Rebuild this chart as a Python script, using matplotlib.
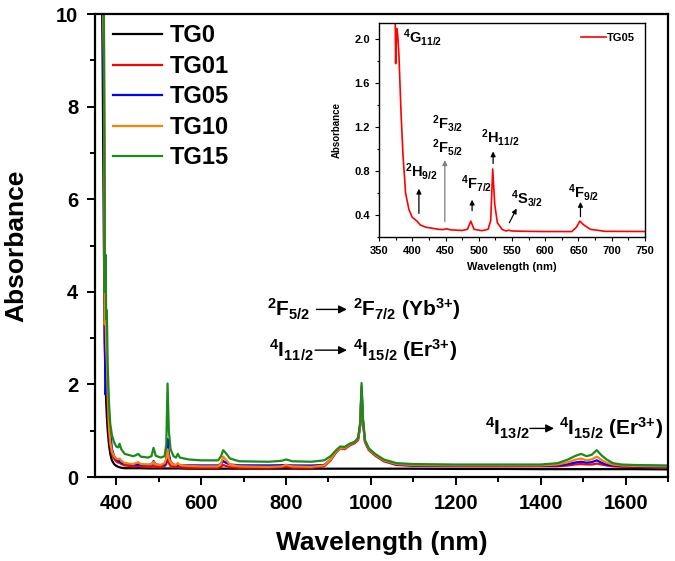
import numpy as np
import matplotlib
matplotlib.use("Agg")
import matplotlib.pyplot as plt
from matplotlib.ticker import MultipleLocator

plt.rcParams['font.family'] = ['Liberation Sans', 'DejaVu Sans']
plt.rcParams['font.weight'] = 'bold'
plt.rcParams['mathtext.fontset'] = 'custom'
plt.rcParams['mathtext.rm'] = 'Liberation Sans:bold'
plt.rcParams['mathtext.bf'] = 'Liberation Sans:bold'
plt.rcParams['mathtext.it'] = 'Liberation Sans:bold'

# wavelength grid (nm), grouped by region
wavelength = [
    365, 368, 371, 373, 375, 376.5, 378, 380, 383, 386, 390, 395, 400,
    405, 408, 412, 420, 440, 446, 452, 458,
    475, 483, 488, 493, 505, 514, 518, 521, 524, 528, 535, 541, 545, 550,
    570, 600, 640, 647, 652, 658, 668, 690, 760, 790, 800, 815, 860,
    890, 905, 918, 928, 938, 950, 962, 970, 975, 978, 981, 986, 995, 1010, 1030, 1060, 1100,
    1200, 1300, 1400, 1440, 1465, 1480, 1495, 1508, 1520, 1532, 1543, 1555, 1570, 1590, 1620, 1700,
]

tg0 = [
    12, 9, 5, 3.0, 2.0, 1.6, 1.3, 1.0, 0.7, 0.5, 0.36, 0.28, 0.24,
    0.22, 0.21, 0.2, 0.19, 0.19, 0.19, 0.19, 0.19,
    0.185, 0.185, 0.185, 0.185, 0.185, 0.185, 0.185, 0.185, 0.185, 0.185, 0.185, 0.185, 0.185, 0.185,
    0.18, 0.18, 0.18, 0.18, 0.18, 0.18, 0.18, 0.18, 0.18, 0.18, 0.18, 0.18, 0.18,
    0.18, 0.18, 0.18, 0.18, 0.18, 0.18, 0.18, 0.18, 0.18, 0.18, 0.18, 0.18, 0.18, 0.18, 0.18, 0.18, 0.18,
    0.175, 0.175, 0.17, 0.17, 0.17, 0.17, 0.17, 0.17, 0.17, 0.17, 0.17, 0.17, 0.17, 0.17, 0.17, 0.165,
]
tg01 = [
    12, 12, 10, 5.3, 3.0, 2.2, 2.4, 1.6, 1.0, 0.7, 0.5, 0.4, 0.34,
    0.31, 0.31, 0.28, 0.25, 0.23, 0.23, 0.24, 0.23,
    0.22, 0.22, 0.25, 0.22, 0.21, 0.23, 0.28, 0.42, 0.3, 0.24, 0.22, 0.21, 0.23, 0.21,
    0.2, 0.2, 0.2, 0.22, 0.26, 0.24, 0.21, 0.2, 0.2, 0.21, 0.22, 0.2, 0.2,
    0.23, 0.36, 0.53, 0.62, 0.6, 0.68, 0.73, 0.8, 1.1, 1.9, 1.2, 0.75, 0.58, 0.46, 0.34, 0.26, 0.24,
    0.23, 0.23, 0.23, 0.23, 0.25, 0.27, 0.28, 0.27, 0.27, 0.29, 0.27, 0.25, 0.23, 0.22, 0.22, 0.21,
]
tg05 = [
    12, 11, 8, 3.0, 1.78, 2.1, 2.05, 1.85, 1.35, 0.95, 0.6, 0.45, 0.38,
    0.355, 0.34, 0.31, 0.29, 0.27, 0.268, 0.275, 0.265,
    0.26, 0.27, 0.345, 0.27, 0.258, 0.27, 0.35, 0.82, 0.5, 0.33, 0.27, 0.255, 0.262, 0.255,
    0.252, 0.25, 0.25, 0.29, 0.345, 0.31, 0.27, 0.252, 0.25, 0.255, 0.26, 0.25, 0.248,
    0.26, 0.38, 0.55, 0.63, 0.62, 0.7, 0.75, 0.83, 1.15, 1.95, 1.25, 0.78, 0.6, 0.48, 0.36, 0.27, 0.25,
    0.24, 0.24, 0.24, 0.25, 0.28, 0.31, 0.33, 0.31, 0.32, 0.36, 0.31, 0.27, 0.25, 0.24, 0.23, 0.22,
]
tg10 = [
    12, 11, 9, 3.3, 3.5, 2.8, 2.5, 1.8, 1.1, 0.75, 0.55, 0.45, 0.4,
    0.38, 0.4, 0.35, 0.3, 0.28, 0.3, 0.32, 0.28,
    0.27, 0.28, 0.33, 0.27, 0.26, 0.3, 0.4, 0.6, 0.4, 0.32, 0.27, 0.26, 0.3, 0.26,
    0.24, 0.23, 0.23, 0.3, 0.44, 0.38, 0.27, 0.23, 0.22, 0.23, 0.26, 0.23, 0.22,
    0.25, 0.38, 0.55, 0.63, 0.62, 0.7, 0.75, 0.83, 1.15, 1.95, 1.25, 0.78, 0.6, 0.48, 0.36, 0.28, 0.26,
    0.25, 0.25, 0.25, 0.27, 0.32, 0.37, 0.4, 0.36, 0.38, 0.44, 0.37, 0.31, 0.27, 0.25, 0.24, 0.23,
]
tg15 = [
    12, 11, 10, 4.0, 4.8, 3.4, 3.6, 2.4, 1.6, 1.15, 0.9, 0.75, 0.66,
    0.64, 0.72, 0.6, 0.5, 0.45, 0.47, 0.5, 0.44,
    0.42, 0.45, 0.63, 0.46, 0.42, 0.45, 0.7, 2.02, 1.0, 0.6, 0.45, 0.42, 0.5, 0.42,
    0.38, 0.36, 0.36, 0.45, 0.58, 0.52, 0.4, 0.34, 0.33, 0.35, 0.38, 0.34, 0.33,
    0.36, 0.45, 0.58, 0.66, 0.65, 0.72, 0.76, 0.85, 1.2, 2.03, 1.3, 0.8, 0.62, 0.5, 0.38, 0.3, 0.28,
    0.27, 0.27, 0.27, 0.3, 0.38, 0.45, 0.5, 0.45, 0.48, 0.58, 0.47, 0.38, 0.3, 0.27, 0.26, 0.25,
]

labels = ['TG0', 'TG01', 'TG05', 'TG10', 'TG15']
colors = ['black', 'red', 'blue', '#ff8000', '#1a8a1a']
series = [tg0, tg01, tg05, tg10, tg15]

# inset level labels: (text, x, y) and arrows (tail, head, colour)
inset_labels = [
    (r'$^{4}$G$_{11/2}$', 386, 2.02),
    (r'$^{2}$H$_{9/2}$', 389, 0.80),
    (r'$^{2}$F$_{3/2}$', 429, 1.235),
    (r'$^{2}$F$_{5/2}$', 429, 1.02),
    (r'$^{4}$F$_{7/2}$', 474, 0.69),
    (r'$^{2}$H$_{11/2}$', 504, 1.11),
    (r'$^{4}$S$_{3/2}$', 548, 0.55),
    (r'$^{4}$F$_{9/2}$', 634, 0.61),
]
inset_arrows = [
    ((410, 0.415), (410, 0.64), 'black'),
    ((449, 0.34), (449, 0.90), 'gray'),
    ((490, 0.44), (490, 0.54), 'black'),
    ((521.6, 0.87), (521.6, 0.98), 'black'),
    ((546, 0.33), (557, 0.46), 'black'),
    ((653, 0.385), (653, 0.52), 'black'),
]

fig = plt.figure(figsize=(6.75, 5.61), dpi=100)
ax = fig.add_axes([0.1407, 0.1497, 0.849, 0.8253])

for vals, lab, c in zip(series, labels, colors):
    ax.plot(wavelength, vals, color=c, lw=1.6, label=lab)

ax.set_xlim(350, 1700)
ax.set_ylim(0, 10)
ax.xaxis.set_major_locator(MultipleLocator(200))
ax.xaxis.set_minor_locator(MultipleLocator(100))
ax.yaxis.set_major_locator(MultipleLocator(2))
ax.yaxis.set_minor_locator(MultipleLocator(1))
ax.tick_params(which='major', direction='out', length=6, width=1.4, labelsize=14.5, pad=6)
ax.tick_params(which='minor', direction='out', length=3.5, width=1.4)
for s in ax.spines.values():
    s.set_linewidth(1.6)
ax.set_xlabel('Wavelength (nm)', fontsize=19, fontweight='bold', labelpad=13)
ax.set_ylabel('Absorbance', fontsize=19, fontweight='bold', labelpad=20)

ax.legend(loc='upper left', bbox_to_anchor=(0.031, 0.978), frameon=False,
          fontsize=17, handlelength=2.1, handletextpad=0.3, labelspacing=0.32,
          borderpad=0, borderaxespad=0)

# transition labels in the main plot
arrow_kw = dict(arrowstyle='-|>', color='black', lw=1.0, mutation_scale=12)
ax.text(755, 3.62, r'$^{2}$F$_{5/2}$', fontsize=15, va='center')
ax.annotate('', xy=(950, 3.62), xytext=(865, 3.62), arrowprops=arrow_kw)
ax.text(958, 3.62, r'$^{2}$F$_{7/2}$ (Yb$^{3{+}}$)', fontsize=15, va='center')
ax.text(760, 2.74, r'$^{4}$I$_{11/2}$', fontsize=15, va='center')
ax.annotate('', xy=(950, 2.74), xytext=(862, 2.74), arrowprops=arrow_kw)
ax.text(958, 2.74, r'$^{4}$I$_{15/2}$ (Er$^{3{+}}$)', fontsize=15, va='center')
ax.text(1268, 1.05, r'$^{4}$I$_{13/2}$', fontsize=15, va='center')
ax.annotate('', xy=(1438, 1.05), xytext=(1368, 1.05), arrowprops=arrow_kw)
ax.text(1444, 1.05, r'$^{4}$I$_{15/2}$ (Er$^{3{+}}$)', fontsize=15, va='center')

# inset: TG05 UV-vis region
ins = fig.add_axes([0.5615, 0.5775, 0.394, 0.3815])
ins.plot(wavelength, tg05, color='red', lw=1.2, label='TG05')
ins.set_xlim(350, 750)
ins.set_ylim(0.2, 2.15)
ins.xaxis.set_major_locator(MultipleLocator(50))
ins.xaxis.set_minor_locator(MultipleLocator(25))
ins.yaxis.set_major_locator(MultipleLocator(0.4))
ins.yaxis.set_minor_locator(MultipleLocator(0.2))
ins.tick_params(which='major', direction='out', length=3, width=0.8, labelsize=8)
ins.tick_params(which='minor', direction='out', length=1.8, width=0.8)
for s in ins.spines.values():
    s.set_linewidth(1.0)
ins.set_xlabel('Wavelength (nm)', fontsize=8, fontweight='bold', labelpad=4)
ins.set_ylabel('Absorbance', fontsize=7, fontweight='bold', labelpad=9)
ins.legend(loc='upper right', frameon=False, fontsize=8, handlelength=2.2,
           handletextpad=0.1, borderaxespad=0.5)

for txt, x, y in inset_labels:
    ins.text(x, y, txt, fontsize=10.5, va='center')
for (x0, y0), (x1, y1), c in inset_arrows:
    ins.annotate('', xy=(x1, y1), xytext=(x0, y0),
                 arrowprops=dict(arrowstyle='-|>', color=c, lw=0.9, mutation_scale=7,
                                 shrinkA=0, shrinkB=0))

fig.savefig('out.png', dpi=100)
